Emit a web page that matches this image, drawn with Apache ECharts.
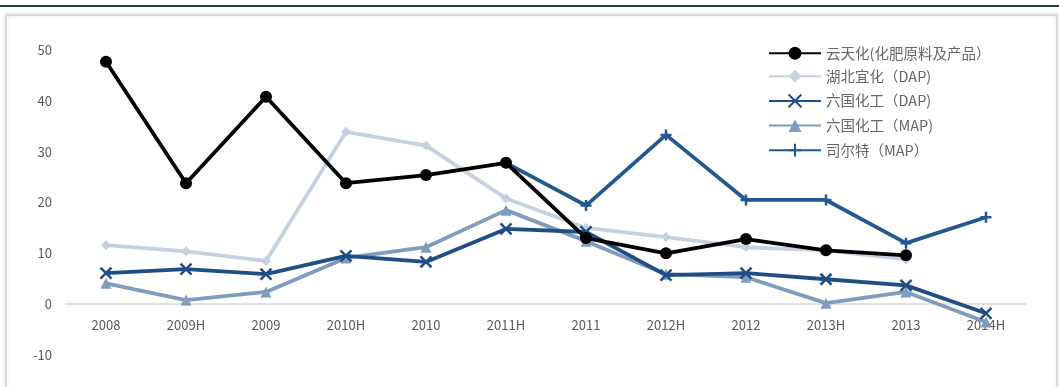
<!DOCTYPE html>
<html>
<head>
<meta charset="utf-8">
<script src="https://cdn.jsdelivr.net/npm/echarts@6/dist/echarts.min.js"></script>
<style>html,body{margin:0;padding:0;background:#fff;}#c{width:1059px;height:387px;}</style>
</head>
<body>
<div id="c"></div>
<script>
const categories = ['2008','2009H','2009','2010H','2010','2011H','2011','2012H','2012','2013H','2013','2014H'];
const yuntianhua = [47.7, 23.8, 40.8, 23.8, 25.4, 27.8, 13.0, 10.0, 12.8, 10.6, 9.6, null];
const hubeiyihua = [11.6, 10.4, 8.5, 33.9, 31.2, 20.8, 15.0, 13.2, 11.2, 10.6, 8.8, null];
const liuguoDAP = [6.1, 6.9, 5.9, 9.5, 8.3, 14.8, 14.2, 5.7, 6.1, 4.9, 3.7, -1.8];
const liuguoMAP = [4.1, 0.8, 2.4, 9.1, 11.2, 18.5, 12.4, 5.9, 5.3, 0.2, 2.4, -3.5];
const sierte = [null, null, null, null, null, 27.8, 19.4, 33.3, 20.5, 20.5, 12.0, 17.1];
const yTicks = [-10, 0, 10, 20, 30, 40, 50];
const names = ['云天化(化肥原料及产品）', '湖北宜化（DAP)', '六国化工（DAP)', '六国化工（MAP)', '司尔特（MAP）'];

const font = '"Noto Sans CJK SC", "Open Sans", sans-serif';
const chart = echarts.init(document.getElementById('c'), null, {renderer: 'canvas'});

function line(name, data, color, symbol, size, z, stroke) {
  return {
    name, type: 'line', data, z,
    symbol, symbolSize: size,
    lineStyle: {color, width: 3.8},
    itemStyle: stroke ? {color: 'none', borderColor: color, borderWidth: 2.5} : {color},
    connectNulls: false,
    animation: false
  };
}

const option = {
  animation: false,
  textStyle: {fontFamily: font},
  graphic: [
    {type: 'rect', shape: {x: 6, y: 15, width: 1051, height: 400}, style: {fill: '#fff', stroke: '#dcdcdc', lineWidth: 2, shadowBlur: 4, shadowColor: 'rgba(0,0,0,0.12)'}, z: -10},
    {type: 'line', shape: {x1: 0, y1: 6, x2: 1059, y2: 6}, style: {stroke: '#1f3864', lineWidth: 2}, z: -5}
  ],
  legend: {
    orient: 'vertical', left: 768, top: 46, padding: 0, itemGap: 8.5,
    itemWidth: 52, itemHeight: 16,
    textStyle: {color: '#666', fontSize: 14.5, fontFamily: font},
    data: names
  },
  grid: {left: 66, right: 33, top: 50, bottom: 32, containLabel: false},
  xAxis: {
    type: 'category', data: categories, boundaryGap: true,
    axisLine: {onZero: false, lineStyle: {color: '#d9d9d9', width: 1.5}},
    axisTick: {show: false},
    offset: 0,
    axisLabel: {color: '#595959', fontSize: 13, margin: 14, fontFamily: font}
  },
  yAxis: {
    type: 'value', min: yTicks[0], max: yTicks[yTicks.length - 1], interval: 10,
    axisLine: {show: false}, axisTick: {show: false},
    splitLine: {show: false},
    axisLabel: {color: '#595959', fontSize: 13, margin: 14, fontFamily: font}
  },
  series: [
    line(names[0], yuntianhua, '#000000', 'circle', 12, 5),
    line(names[1], hubeiyihua, '#c6d1e0', 'diamond', 10, 2),
    line(names[2], liuguoDAP, '#1f4e85', 'path://M0,0L10,10M10,0L0,10', 11, 4, true),
    line(names[3], liuguoMAP, '#7f9bbd', 'triangle', 11, 3),
    line(names[4], sierte, '#245891', 'path://M5,0L5,10M0,5L10,5', 11, 4, true)
  ]
};
chart.setOption(option);
// place the category axis on the zero line (labels follow it)
const yZero = chart.convertToPixel({yAxisIndex: 0}, 0);
const yBottom = chart.convertToPixel({yAxisIndex: 0}, yTicks[0]);
chart.setOption({xAxis: {offset: -(yBottom - yZero)}});
</script>
</body>
</html>
